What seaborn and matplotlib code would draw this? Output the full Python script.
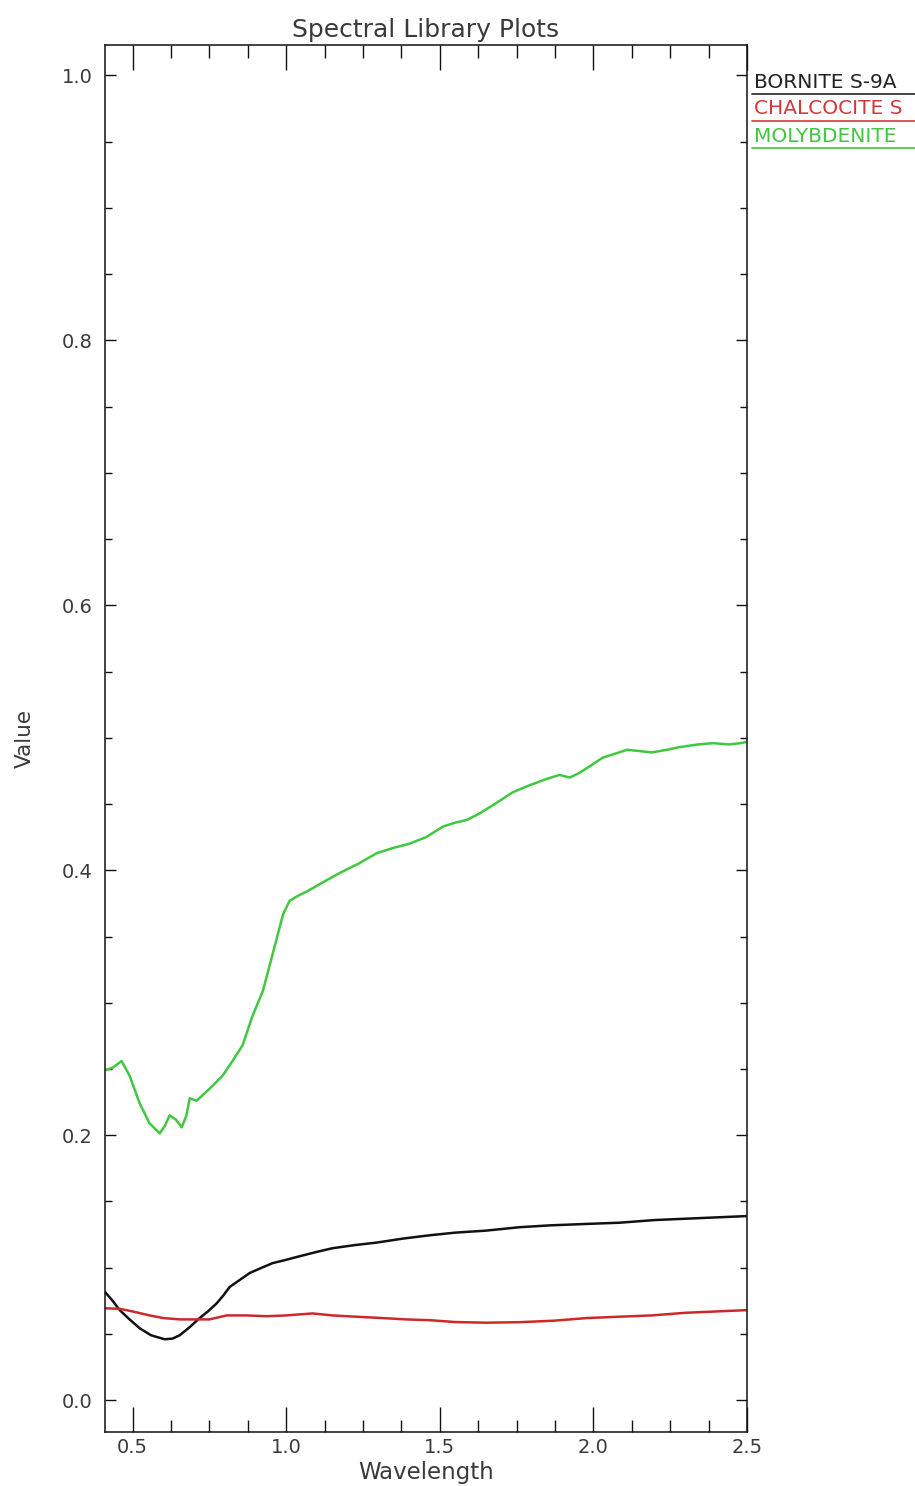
import pandas as pd
import seaborn as sns
import matplotlib.pyplot as plt
from matplotlib.lines import Line2D
from matplotlib.ticker import MultipleLocator

# spectra (wavelength in microns, reflectance value)
bornite_wl = [0.41, 0.435, 0.458, 0.49, 0.523, 0.56, 0.604, 0.63, 0.653, 0.685, 0.718, 0.745,
              0.773, 0.795, 0.816, 0.85, 0.881, 0.92, 0.956, 1.0, 1.044, 1.1, 1.15, 1.22, 1.295,
              1.38, 1.467, 1.55, 1.65, 1.76, 1.86, 1.97, 2.086, 2.2, 2.3, 2.4, 2.5]
bornite_val = [0.0817, 0.075, 0.068, 0.061, 0.0543, 0.049, 0.046, 0.0465, 0.049, 0.055, 0.062, 0.067,
               0.073, 0.079, 0.0855, 0.091, 0.096, 0.1, 0.1035, 0.106, 0.1087, 0.112, 0.1147, 0.117, 0.119,
               0.122, 0.1245, 0.1265, 0.128, 0.1306, 0.132, 0.133, 0.134, 0.136, 0.137, 0.138, 0.139]

chalcocite_wl = [0.41, 0.458, 0.5, 0.555, 0.6, 0.653, 0.7, 0.75, 0.806, 0.87, 0.936, 1.0, 1.086,
                 1.15, 1.23, 1.314, 1.39, 1.467, 1.55, 1.65, 1.76, 1.87, 1.978, 2.08, 2.19, 2.3, 2.4, 2.5]
chalcocite_val = [0.0694, 0.069, 0.067, 0.064, 0.062, 0.061, 0.061, 0.061, 0.064, 0.064, 0.0634, 0.064, 0.0655,
                  0.064, 0.063, 0.062, 0.061, 0.0604, 0.059, 0.0585, 0.0589, 0.060, 0.062, 0.063, 0.064, 0.066, 0.067, 0.068]

molybdenite_wl = [0.41, 0.435, 0.464, 0.49, 0.523, 0.555, 0.588, 0.605, 0.62, 0.64, 0.66, 0.675, 0.686,
                  0.708, 0.75, 0.793, 0.825, 0.858, 0.89, 0.924, 0.956, 0.99, 1.011, 1.04, 1.067, 1.12,
                  1.174, 1.235, 1.295, 1.35, 1.40, 1.455, 1.51, 1.55, 1.588, 1.63, 1.685, 1.738, 1.79,
                  1.848, 1.89, 1.923, 1.95, 1.978, 2.03, 2.07, 2.11, 2.15, 2.19, 2.24, 2.28, 2.34, 2.39,
                  2.44, 2.48, 2.5]
molybdenite_val = [0.249, 0.251, 0.256, 0.245, 0.224, 0.209, 0.2015, 0.207, 0.215, 0.212, 0.206, 0.215, 0.228,
                   0.226, 0.235, 0.245, 0.256, 0.268, 0.29, 0.309, 0.337, 0.367, 0.377, 0.381, 0.384, 0.391,
                   0.398, 0.405, 0.413, 0.417, 0.420, 0.425, 0.433, 0.436, 0.438, 0.443, 0.451, 0.459, 0.464,
                   0.469, 0.472, 0.470, 0.473, 0.477, 0.485, 0.488, 0.491, 0.490, 0.489, 0.491, 0.493, 0.495,
                   0.496, 0.495, 0.496, 0.497]

# only the part of each name that shows in the picture
names = ['BORNITE S-9A', 'CHALCOCITE S', 'MOLYBDENITE']
colors = ['#111111', '#cc2a2a', '#40c840']
legend_colors = ['#222222', '#d03a3a', '#44c444']

x_ticks = [0.5, 1.0, 1.5, 2.0, 2.5]
y_ticks = [0.0, 0.2, 0.4, 0.6, 0.8, 1.0]

# long table for seaborn
df = pd.concat([
    pd.DataFrame({'wavelength': bornite_wl, 'value': bornite_val, 'mineral': names[0]}),
    pd.DataFrame({'wavelength': chalcocite_wl, 'value': chalcocite_val, 'mineral': names[1]}),
    pd.DataFrame({'wavelength': molybdenite_wl, 'value': molybdenite_val, 'mineral': names[2]}),
], ignore_index=True)

sns.set_style('white')
plt.rcParams['font.family'] = ['DejaVu Sans']
txt = '#3a3a3a'

fig = plt.figure(figsize=(9.15, 14.86), dpi=100)
ax = fig.add_axes([105/915, 1 - 1432/1486, 642/915, 1387/1486])

sns.lineplot(data=df, x='wavelength', y='value', hue='mineral', palette=dict(zip(names, colors)),
             estimator=None, sort=False, legend=False, linewidth=1.8, ax=ax)

ax.set_xlim(0.41, 2.5)
ax.set_ylim(-0.024, 1.023)
ax.set_xticks(x_ticks)
ax.set_xticklabels([f'{t:.1f}' for t in x_ticks])
ax.set_yticks(y_ticks)
ax.set_yticklabels([f'{t:.1f}' for t in y_ticks])
ax.xaxis.set_minor_locator(MultipleLocator(0.125))
ax.yaxis.set_minor_locator(MultipleLocator(0.05))

for s in ax.spines.values():
    s.set_color('#111111')
    s.set_linewidth(1.1)

ax.tick_params(which='both', direction='in', top=True, right=True, bottom=True, left=True,
               colors='#111111', labelcolor=txt, labelsize=14, width=1.0)
ax.tick_params(axis='x', which='major', length=18, pad=4)
ax.tick_params(axis='x', which='minor', length=9)
ax.tick_params(axis='y', which='major', length=8, pad=9)
ax.tick_params(axis='y', which='minor', length=5)

ax.set_title('Spectral Library Plots', fontsize=18, color=txt, pad=6)
ax.set_xlabel('Wavelength', fontsize=16.5, color=txt)
ax.set_ylabel('Value', fontsize=15.5, color=txt)
ax.xaxis.set_label_coords(0.5, -0.021)
ax.yaxis.set_label_coords(-0.11, 0.5)

# legend outside the right edge, underlined
for i, (name, c) in enumerate(zip(names, legend_colors)):
    y = 1 - (82 + 27 * i) / 1486
    fig.text(754/915, y, name, color=c, fontsize=14.5, va='center', ha='left')
    yl = 1 - (94 + 27 * i) / 1486
    fig.add_artist(Line2D([752/915, 1.0], [yl, yl], transform=fig.transFigure, color=c, lw=1.2))

fig.savefig('out.png', dpi=100)
